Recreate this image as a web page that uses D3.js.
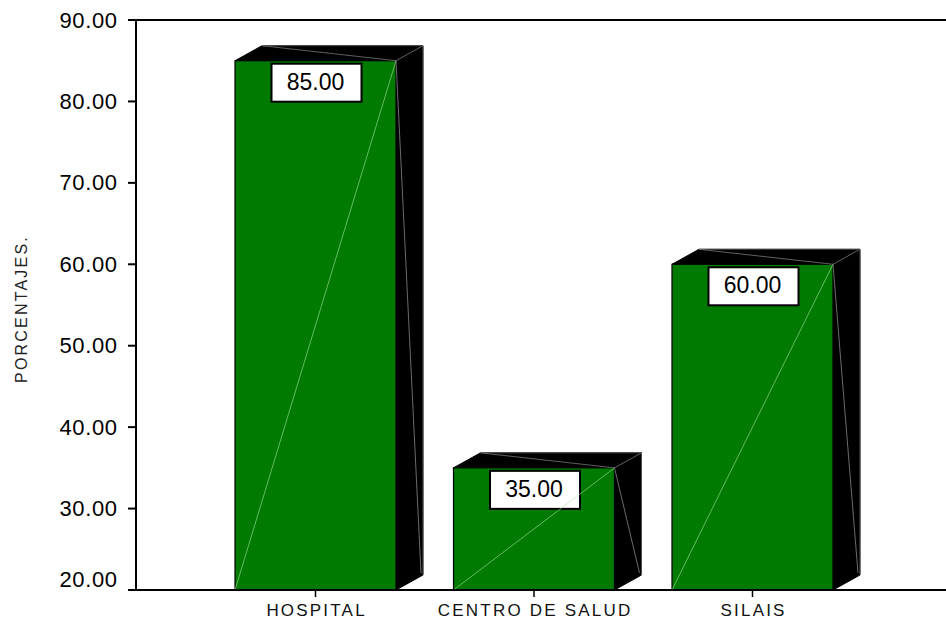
<!DOCTYPE html>
<html>
<head>
<meta charset="utf-8">
<script src="https://cdn.jsdelivr.net/npm/d3@7"></script>
<style>
  html, body { margin: 0; padding: 0; background: #fff; }
  svg { display: block; }
</style>
</head>
<body>
<svg id="chart" width="946" height="622"></svg>
<script>
// Categories and percentages
const categories = ["HOSPITAL", "CENTRO DE SALUD", "SILAIS"];
const values = [85.00, 35.00, 60.00];
const yTicks = [20, 30, 40, 50, 60, 70, 80, 90];
const yTitle = "PORCENTAJES.";

const svg = d3.select("#chart");
const W = 946, H = 622;
const axisX = 136, plotTop = 20, plotBottom = 590;

const y = d3.scaleLinear().domain([20, 90]).range([plotBottom, plotTop]);
const x = d3.scalePoint().domain(categories).range([315.5, 752.5]);
const barW = 161;
const dx = 27, dy = 15;   // 3D depth offset

const font = "Arial, 'Liberation Sans', sans-serif";

// Bars
const bars = svg.append("g").selectAll("g").data(categories).join("g");

bars.each(function (c, i) {
  const g = d3.select(this);
  const x0 = x(c) - barW / 2, x1 = x(c) + barW / 2;
  const yt = y(values[i]), yb = y(20);

  // top face
  g.append("polygon")
    .attr("points", [[x0, yt], [x0 + dx, yt - dy], [x1 + dx, yt - dy], [x1, yt]].join(" "))
    .attr("fill", "#000").attr("stroke", "#000").attr("stroke-width", 1);
  // side face
  g.append("polygon")
    .attr("points", [[x1, yt], [x1 + dx, yt - dy], [x1 + dx, yb - dy], [x1, yb]].join(" "))
    .attr("fill", "#000").attr("stroke", "#000").attr("stroke-width", 1);
  // front face
  g.append("rect")
    .attr("x", x0).attr("y", yt).attr("width", barW).attr("height", yb - yt)
    .attr("fill", "#007a00").attr("stroke", "#000").attr("stroke-width", 1.2);

  // highlight edges
  g.append("line")
    .attr("x1", x1).attr("y1", yt).attr("x2", x1 + dx).attr("y2", yt - dy)
    .attr("stroke", "#777").attr("stroke-width", 0.8);
  g.append("line")
    .attr("x1", x0 + dx).attr("y1", yt - dy).attr("x2", x1 + dx).attr("y2", yt - dy)
    .attr("stroke", "#555").attr("stroke-width", 0.8);
  g.append("line")
    .attr("x1", x1 + dx).attr("y1", yt - dy).attr("x2", x1 + dx).attr("y2", yb - dy)
    .attr("stroke", "#666").attr("stroke-width", 0.8);
  // face diagonals
  g.append("line")
    .attr("x1", x0 + dx).attr("y1", yt - dy).attr("x2", x1).attr("y2", yt)
    .attr("stroke", "#888").attr("stroke-width", 0.7);
  g.append("line")
    .attr("x1", x1).attr("y1", yt).attr("x2", x1 + dx - 2).attr("y2", yb - dy - 2)
    .attr("stroke", "#999").attr("stroke-width", 0.7);

  // value label box
  const bw = 90, bh = 38;
  g.append("rect")
    .attr("x", x(c) - bw / 2 + 1).attr("y", yt + 3)
    .attr("width", bw).attr("height", bh)
    .attr("fill", "#fff").attr("stroke", "#000").attr("stroke-width", 2);
  g.append("text")
    .attr("x", x(c)).attr("y", yt + 29)
    .attr("text-anchor", "middle")
    .attr("font-family", font).attr("font-size", 23)
    .attr("fill", "#000")
    .text(values[i].toFixed(2));

  // front diagonal
  g.append("line")
    .attr("x1", x0).attr("y1", yb).attr("x2", x1).attr("y2", yt)
    .attr("stroke", "#a8e8a8").attr("stroke-width", 0.7).attr("opacity", 0.85);
});

// Y axis
const yAxis = svg.append("g");
yAxis.append("line")
  .attr("x1", axisX).attr("y1", plotTop).attr("x2", axisX).attr("y2", plotBottom)
  .attr("stroke", "#000").attr("stroke-width", 2);
yAxis.selectAll("line.tick").data(yTicks).join("line")
  .attr("class", "tick")
  .attr("x1", 128).attr("x2", axisX)
  .attr("y1", d => y(d)).attr("y2", d => y(d))
  .attr("stroke", "#000").attr("stroke-width", 2);
yAxis.selectAll("text").data(yTicks).join("text")
  .attr("x", 117.6).attr("y", d => Math.min(y(d) + 7.5, plotBottom - 3))
  .attr("text-anchor", "end")
  .attr("font-family", font).attr("font-size", 22)
  .attr("letter-spacing", 0.6)
  .attr("fill", "#000")
  .text(d => d.toFixed(2));

// Top rule
svg.append("line")
  .attr("x1", 128).attr("y1", plotTop).attr("x2", W).attr("y2", plotTop)
  .attr("stroke", "#000").attr("stroke-width", 2);

// X axis
const xAxis = svg.append("g");
xAxis.append("line")
  .attr("x1", axisX - 8).attr("y1", plotBottom).attr("x2", W).attr("y2", plotBottom)
  .attr("stroke", "#000").attr("stroke-width", 2);
xAxis.selectAll("line.tick").data(categories).join("line")
  .attr("class", "tick")
  .attr("x1", d => x(d)).attr("x2", d => x(d))
  .attr("y1", plotBottom).attr("y2", plotBottom + 7)
  .attr("stroke", "#000").attr("stroke-width", 1.5);
xAxis.selectAll("text").data(categories).join("text")
  .attr("x", d => x(d) + 1.1).attr("y", 616)
  .attr("text-anchor", "middle")
  .attr("font-family", font).attr("font-size", 17)
  .attr("letter-spacing", 2.2)
  .attr("fill", "#111")
  .text(d => d);

// Y title
svg.append("text")
  .attr("transform", "translate(27,309) rotate(-90)")
  .attr("text-anchor", "middle")
  .attr("font-family", font).attr("font-size", 16)
  .attr("letter-spacing", 2.2)
  .attr("fill", "#222")
  .text(yTitle);
</script>
</body>
</html>
